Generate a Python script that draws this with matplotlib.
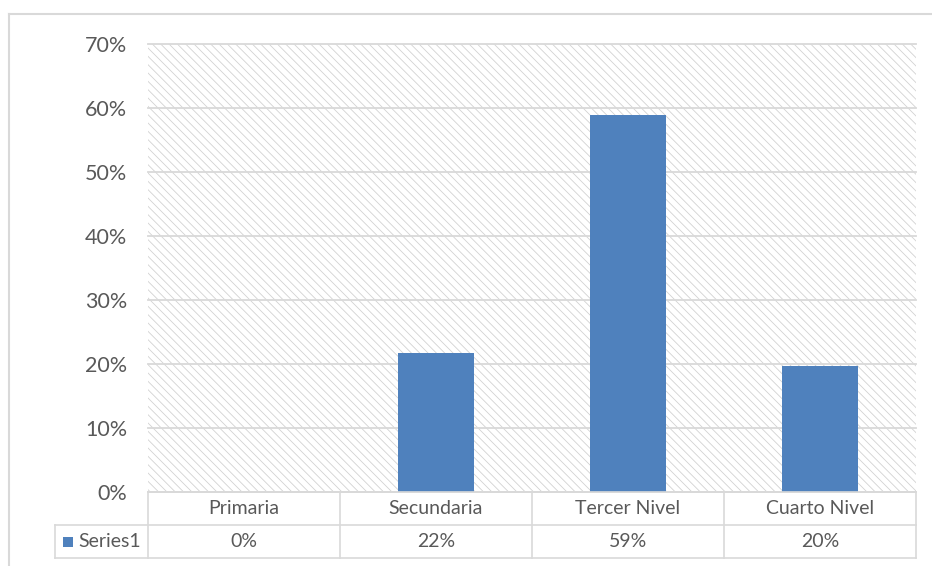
import matplotlib
matplotlib.use("Agg")
import matplotlib.pyplot as plt
from matplotlib.patches import Rectangle
from matplotlib.lines import Line2D
from matplotlib.ticker import FuncFormatter

categories = ["Primaria", "Secundaria", "Tercer Nivel", "Cuarto Nivel"]
values = [0.0, 21.7, 58.9, 19.7]
value_labels = ["0%", "22%", "59%", "20%"]
series_name = "Series1"
y_ticks = [0, 10, 20, 30, 40, 50, 60, 70]

bar_color = "#4F81BD"
grid_color = "#D9D9D9"
text_color = "#595959"

plt.rcParams["font.family"] = ["Lato", "DejaVu Sans"]
plt.rcParams["hatch.linewidth"] = 0.6
plt.rcParams["hatch.color"] = "#D2D2D2"

W, H = 932, 566
fig = plt.figure(figsize=(W / 100, H / 100), dpi=100)

# outer chart frame
fig.add_artist(Line2D([9 / W, 1], [1 - 14 / H] * 2, color=grid_color, lw=1.5))
fig.add_artist(Line2D([9 / W] * 2, [0, 1 - 14 / H], color=grid_color, lw=1.5))

px_l, px_r, px_t, px_b = 148, 916, 44, 492
ax = fig.add_axes([px_l / W, 1 - px_b / H, (px_r - px_l) / W, (px_b - px_t) / H])
x = list(range(len(categories)))
ax.set_xlim(-0.5, len(categories) - 0.5)
ax.set_ylim(0, 70)

# hatched plot area background
ax.add_patch(Rectangle((0, 0), 1, 1, transform=ax.transAxes, facecolor="white",
                       hatch="\\\\\\\\", edgecolor="#D2D2D2", lw=0, zorder=0))
for t in y_ticks:
    ax.axhline(t, color=grid_color, lw=1.3, zorder=1, clip_on=False)

ax.bar(x, values, width=0.4, color=bar_color, zorder=2)

for s in ax.spines.values():
    s.set_visible(False)
ax.set_xticks([])
ax.set_yticks(y_ticks)
ax.yaxis.set_major_formatter(FuncFormatter(lambda v, p: f"{int(v)}%"))
ax.tick_params(axis="y", length=0, pad=15, labelsize=15.5, labelcolor=text_color)

# data table under the bars
tx_l = 55
unit = (px_r - px_l) / len(categories)
x_left = -0.5 - (px_l - tx_l) / unit
tb_b = 558
tax = fig.add_axes([tx_l / W, 1 - tb_b / H, (px_r - tx_l) / W, (tb_b - px_b) / H])
tax.set_xlim(x_left, len(categories) - 0.5)
tax.set_ylim(0, 2)
tax.axis("off")
lw = 1.2
tax.plot([-0.5, len(categories) - 0.5], [2, 2], color=grid_color, lw=lw, clip_on=False)
tax.plot([x_left, len(categories) - 0.5], [1, 1], color=grid_color, lw=lw, clip_on=False)
tax.plot([x_left, len(categories) - 0.5], [0, 0], color=grid_color, lw=lw, clip_on=False)
tax.plot([x_left, x_left], [0, 1], color=grid_color, lw=lw, clip_on=False)
for b in range(len(categories) + 1):
    tax.plot([b - 0.5, b - 0.5], [0, 2], color=grid_color, lw=lw, clip_on=False)
for i, (c, v) in enumerate(zip(categories, value_labels)):
    tax.text(i, 1.5, c, ha="center", va="center", fontsize=14, color=text_color)
    tax.text(i, 0.5, v, ha="center", va="center", fontsize=14, color=text_color)

# legend key in the row header
kx = x_left + 8 / unit
tax.add_patch(Rectangle((kx, 0.33), 10 / unit, 0.32, facecolor=bar_color, lw=0, clip_on=False))
tax.text(kx + 15 / unit, 0.5, series_name, ha="left", va="center", fontsize=14, color=text_color)

fig.savefig("out.png", dpi=100)
